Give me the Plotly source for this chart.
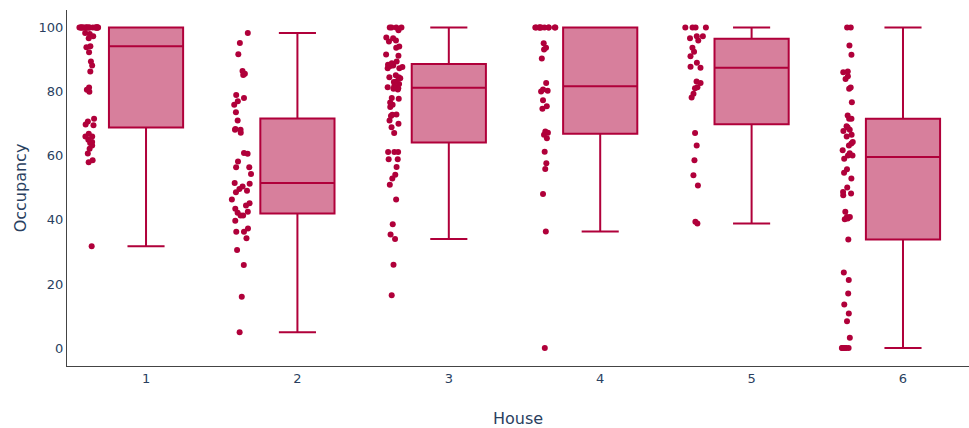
import plotly.graph_objects as go

# Occupancy readings per house (percent)
houses = [1, 2, 3, 4, 5, 6]

house_1 = [100, 100, 100, 100, 100, 100, 100, 100, 100, 100,
           100, 100, 100, 100, 100, 100, 100, 100, 100, 100,
           98.3, 98.0, 97.3, 96.7, 94.2, 93.9, 92.3, 89.4, 88.2, 86.3,
           81.3, 80.6, 80.0, 71.6, 70.7, 69.8, 69.5, 66.9, 66.0, 66.0,
           65.0, 64.3, 64.0, 63.2, 62.2, 60.7, 58.6, 58.0, 31.8]

house_2 = [98.3, 95.2, 91.7, 86.5, 85.6, 85.2, 79.0, 78.0, 77.0, 75.9,
           73.6, 71.0, 68.4, 68.1, 68.1, 67.2, 60.9, 60.6, 58.2, 56.4,
           56.4, 54.3, 51.5, 51.3, 50.4, 49.6, 49.1, 48.6, 46.4, 45.2,
           44.5, 43.5, 42.5, 42.2, 41.4, 41.4, 39.7, 37.3, 36.3, 36.3,
           34.3, 30.6, 25.9, 16.0, 4.9]

house_3 = [100, 100, 100, 100,
           99.2, 96.9, 96.7, 96.0, 95.7, 94.1, 93.7, 91.6, 91.2, 89.4,
           88.9, 88.4, 88.2, 88.0, 87.7, 87.3, 87.3, 85.1, 84.5, 84.5,
           84.2, 83.2, 83.0, 82.4, 81.7, 81.4, 81.1, 80.9, 80.7, 78.0,
           77.8, 76.6, 75.9, 75.2, 72.9, 72.8, 72.4, 71.0, 70.0, 68.9,
           67.1, 61.2, 61.2, 61.2, 58.9, 58.9, 56.5, 54.1, 52.9, 51.0,
           46.4, 38.6, 35.4, 34.0, 26.0, 16.5]

house_4 = [100, 100, 100, 100, 100, 100, 100, 100, 100, 100, 100,
           95.1, 93.7, 93.2, 90.4, 82.7, 80.7, 80.3, 80.1, 77.3, 75.5,
           74.7, 67.6, 67.2, 66.6, 65.5, 61.3, 57.7, 55.9, 48.1, 36.4,
           0]

house_5 = [100, 100, 100, 100,
           97.3, 97.3, 96.7, 96.0, 93.7, 92.5, 91.1, 89.0, 87.8, 87.5,
           83.2, 82.7, 81.4, 81.1, 79.4, 78.2, 67.1, 63.2, 58.6, 53.9,
           50.7, 39.4, 38.9]

house_6 = [100, 100,
           94.4, 91.5, 86.3, 86.1, 84.8, 84.0, 81.3, 80.9, 76.7, 72.6,
           71.6, 71.6, 69.2, 68.8, 68.1, 67.7, 66.6, 66.0, 64.3, 63.8,
           63.2, 61.7, 60.8, 60.1, 60.1, 59.1, 55.8, 54.7, 52.9, 50.1,
           48.7, 48.2, 47.7, 42.5, 40.9, 40.9, 40.4, 40.2, 33.9, 23.6,
           21.2, 17.0, 13.6, 10.8, 8.4, 3.2,
           0, 0, 0, 0, 0, 0]

occupancy = [house_1, house_2, house_3, house_4, house_5, house_6]

x_vals, y_vals = [], []
for h, vals in zip(houses, occupancy):
    x_vals += [h] * len(vals)
    y_vals += vals

color = "#B0003A"
font_family = "Verdana, DejaVu Sans, sans-serif"
text_color = "#2a3f5f"

fig = go.Figure(
    go.Box(
        x=x_vals,
        y=y_vals,
        boxpoints="all",
        jitter=0.3,
        pointpos=-1.5,
        marker=dict(color=color, size=6),
        line=dict(color=color, width=2),
        name="Occupancy",
        showlegend=False,
    )
)

fig.update_layout(
    width=969,
    height=428,
    margin=dict(l=67, r=0, t=10, b=62),
    paper_bgcolor="white",
    plot_bgcolor="white",
    font=dict(family=font_family, size=13, color=text_color),
    xaxis=dict(
        title=dict(text="House", font=dict(size=16, color=text_color), standoff=29),
        range=[0.478, 6.436],
        tickmode="array",
        tickvals=houses,
        ticktext=[str(h) for h in houses],
        showgrid=False,
        zeroline=False,
        showline=True,
        linecolor="#444",
        linewidth=1,
        ticks="",
    ),
    yaxis=dict(
        title=dict(text="Occupancy", font=dict(size=16, color=text_color), standoff=7),
        range=[-5.6, 105.5],
        tickvals=[0, 20, 40, 60, 80, 100],
        showgrid=False,
        zeroline=False,
        showline=True,
        linecolor="#444",
        linewidth=1,
        ticks="",
    ),
)

fig.write_html("out.html")
